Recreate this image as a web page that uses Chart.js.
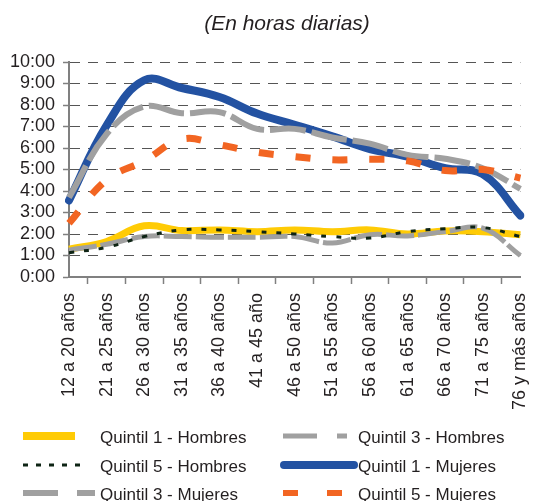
<!DOCTYPE html>
<html>
<head>
<meta charset="utf-8">
<script src="https://cdn.jsdelivr.net/npm/chart.js@4/dist/chart.umd.min.js"></script>
<style>
  html, body { margin: 0; padding: 0; background: #fff; }
  canvas { display: block; }
</style>
</head>
<body>
<canvas id="horas" width="551" height="501"></canvas>
<script>
// horas diarias por tramo de edad
const edades = ['12 a 20 años', '21 a 25 años', '26 a 30 años', '31 a 35 años', '36 a 40 años', '41 a 45 año',
  '46 a 50 años', '51 a 55 años', '56 a 60 años', '61 a 65 años', '66 a 70 años', '71 a 75 años', '76 y más años'];

const q1Hombres = [1.29, 1.65, 2.38, 2.16, 2.19, 2.11, 2.19, 2.11, 2.19, 2.0, 2.14, 2.11, 1.96];
const q3Hombres = [1.25, 1.52, 1.88, 1.88, 1.85, 1.85, 1.88, 1.58, 1.97, 1.91, 2.11, 2.27, 1.0];
const q5Hombres = [1.13, 1.38, 1.88, 2.19, 2.19, 2.11, 2.0, 1.88, 1.81, 2.11, 2.24, 2.3, 1.88];
const q1Mujeres = [3.56, 7.05, 9.15, 8.79, 8.37, 7.6, 7.08, 6.54, 5.95, 5.6, 5.06, 4.78, 2.86];
const q3Mujeres = [3.7, 6.65, 7.93, 7.62, 7.67, 6.89, 6.89, 6.49, 6.2, 5.68, 5.5, 5.06, 4.1];
const q5Mujeres = [2.5, 4.52, 5.4, 6.41, 6.15, 5.8, 5.6, 5.45, 5.48, 5.4, 4.95, 5.0, 4.6];

const yTicks = ['0:00', '1:00', '2:00', '3:00', '4:00', '5:00', '6:00', '7:00', '8:00', '9:00', '10:00'];

const AMARILLO = '#FFCB05', GRIS = '#A0A0A0', NEGRO = '#0E2415', AZUL = '#2352A2', NARANJA = '#F26522';
const TXT = '#231F20';

Chart.defaults.font.family = "'Liberation Sans', Arial, sans-serif";
Chart.defaults.color = TXT;

// leyenda dibujada a mano (dos columnas como en el original)
const leyenda = [
  { text: 'Quintil 1 - Hombres', col: 0, row: 0, color: AMARILLO, w: 8, dash: [], x0: 23, x1: 75 },
  { text: 'Quintil 3 - Hombres', col: 1, row: 0, color: GRIS, w: 5, dash: [34, 20], x0: 283, x1: 347 },
  { text: 'Quintil 5 - Hombres', col: 0, row: 1, color: NEGRO, w: 3, dash: [5, 8], x0: 23, x1: 88 },
  { text: 'Quintil 1 - Mujeres', col: 1, row: 1, color: AZUL, w: 8, dash: [], x0: 284, x1: 354, round: true },
  { text: 'Quintil 3 - Mujeres', col: 0, row: 2, color: GRIS, w: 6, dash: [35, 19], x0: 23, x1: 95 },
  { text: 'Quintil 5 - Mujeres', col: 1, row: 2, color: NARANJA, w: 6, dash: [15, 29], x0: 283, x1: 342 }
];

const extras = {
  id: 'extras',
  afterDraw(chart) {
    const ctx = chart.ctx;
    ctx.save();
    ctx.fillStyle = TXT;
    ctx.font = "italic 21px 'Liberation Sans', Arial, sans-serif";
    ctx.textAlign = 'center';
    ctx.textBaseline = 'middle';
    ctx.fillText('(En horas diarias)', 287, 24);

    ctx.font = "17px 'Liberation Sans', Arial, sans-serif";
    ctx.textAlign = 'left';
    const rowsY = [436, 465, 493];
    const textX = [100, 358];
    leyenda.forEach(it => {
      const y = rowsY[it.row];
      ctx.beginPath();
      ctx.setLineDash(it.dash);
      ctx.lineWidth = it.w;
      ctx.strokeStyle = it.color;
      ctx.lineCap = it.round ? 'round' : 'butt';
      ctx.moveTo(it.x0, y);
      ctx.lineTo(it.x1, y);
      ctx.stroke();
      ctx.setLineDash([]);
      ctx.fillStyle = TXT;
      ctx.fillText(it.text, textX[it.col], y + 2);
    });
    ctx.restore();
  }
};

function serie(label, data, color, width, dash, order, cap) {
  return {
    label: label,
    data: data,
    borderColor: color,
    backgroundColor: color,
    borderWidth: width,
    borderDash: dash,
    borderCapStyle: cap || 'butt',
    pointRadius: 0,
    tension: 0.4,
    fill: false,
    order: order
  };
}

new Chart(document.getElementById('horas'), {
  type: 'line',
  data: {
    labels: edades,
    datasets: [
      serie('Quintil 1 - Hombres', q1Hombres, AMARILLO, 7, [], 6),
      serie('Quintil 3 - Hombres', q3Hombres, GRIS, 5, [28, 4], 5),
      serie('Quintil 5 - Hombres', q5Hombres, NEGRO, 3, [5, 10], 4),
      serie('Quintil 1 - Mujeres', q1Mujeres, AZUL, 8, [], 3, 'round'),
      serie('Quintil 3 - Mujeres', q3Mujeres, GRIS, 6, [36, 6], 2),
      serie('Quintil 5 - Mujeres', q5Mujeres, NARANJA, 7, [15, 22], 1)
    ]
  },
  options: {
    responsive: false,
    animation: false,
    layout: { padding: { top: 62, bottom: 84, left: 0, right: 0 } },
    plugins: {
      legend: { display: false },
      title: { display: false },
      tooltip: { enabled: false }
    },
    scales: {
      x: {
        afterFit(scale) { scale.height = 140; },
        grid: { drawOnChartArea: false, offset: true, tickLength: 7, tickColor: '#808080', tickWidth: 1.5 },
        border: { color: '#808080', width: 2 },
        ticks: { autoSkip: false, minRotation: 90, maxRotation: 90, padding: 9, font: { size: 18 }, color: TXT }
      },
      y: {
        min: 0,
        max: 10,
        afterFit(scale) { scale.width = 69; },
        grid: { color: '#555', lineWidth: 1, tickLength: 6, tickColor: '#808080', tickWidth: 1.5, tickBorderDash: [] },
        border: { color: '#808080', width: 2, dash: [10, 8] },
        ticks: {
          stepSize: 1,
          autoSkip: false,
          padding: 8,
          font: { size: 18 },
          color: TXT,
          callback: (v) => yTicks[v]
        }
      }
    }
  },
  plugins: [extras]
});
</script>
</body>
</html>
